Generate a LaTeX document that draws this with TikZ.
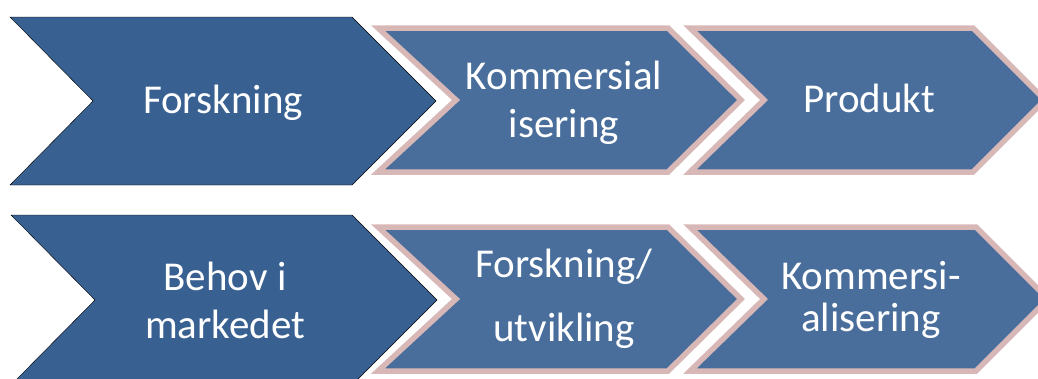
\documentclass[tikz,border=0pt]{standalone}
\usepackage{fontspec}
\setmainfont{Carlito}
\definecolor{darkchev}{RGB}{56,96,145}
\definecolor{lightchev}{RGB}{73,110,156}
\definecolor{pinkrim}{RGB}{216,183,183}
\begin{document}
\begin{tikzpicture}[x=1pt, y=-1pt]

  \tikzstyle{lead} = [fill=darkchev]
  \tikzstyle{follow} = [fill=lightchev, draw=pinkrim, line width=5.5]
  \tikzstyle{label} = [text=white, align=center, inner sep=0, font=\fontsize{41}{48}\selectfont]

  \clip (0,0) rectangle (1038,378);

  % top row
  \draw[lead] (10,17) -- (352,17) -- (436,101) -- (352,185) -- (10,185) -- (93,101) -- cycle;
  \draw[follow] (378,28) -- (668,28) -- (741,100) -- (668,172) -- (378,172) -- (456,100) -- cycle;
  \draw[follow] (690,28) -- (973,28) -- (1045,100) -- (973,172) -- (690,172) -- (764,100) -- cycle;

  \node[label, anchor=base] (forskA) at (223,113) {Forskning};
  \node[label] (kommA) at (564,103) {Kommersial\\isering};
  \node[label, anchor=base] (produkt) at (869,112) {Produkt};

  % bottom row
  \draw[lead] (11,215) -- (352,215) -- (437,300) -- (352,385) -- (11,385) -- (95,300) -- cycle;
  \draw[follow] (378,227) -- (668,227) -- (741,299) -- (668,371) -- (378,371) -- (456,299) -- cycle;
  \draw[follow] (690,227) -- (976,227) -- (1048,299) -- (976,371) -- (690,371) -- (764,299) -- cycle;

  \node[label] (behov) at (225,300) {Behov i\\markedet};
  \node[label] (forskB) at (564,299) {Forskning/\\[16pt]utvikling};
  \node[label] (kommB) at (871,300) {Kommersi-\\[-6pt]alisering};

\end{tikzpicture}
\end{document}
